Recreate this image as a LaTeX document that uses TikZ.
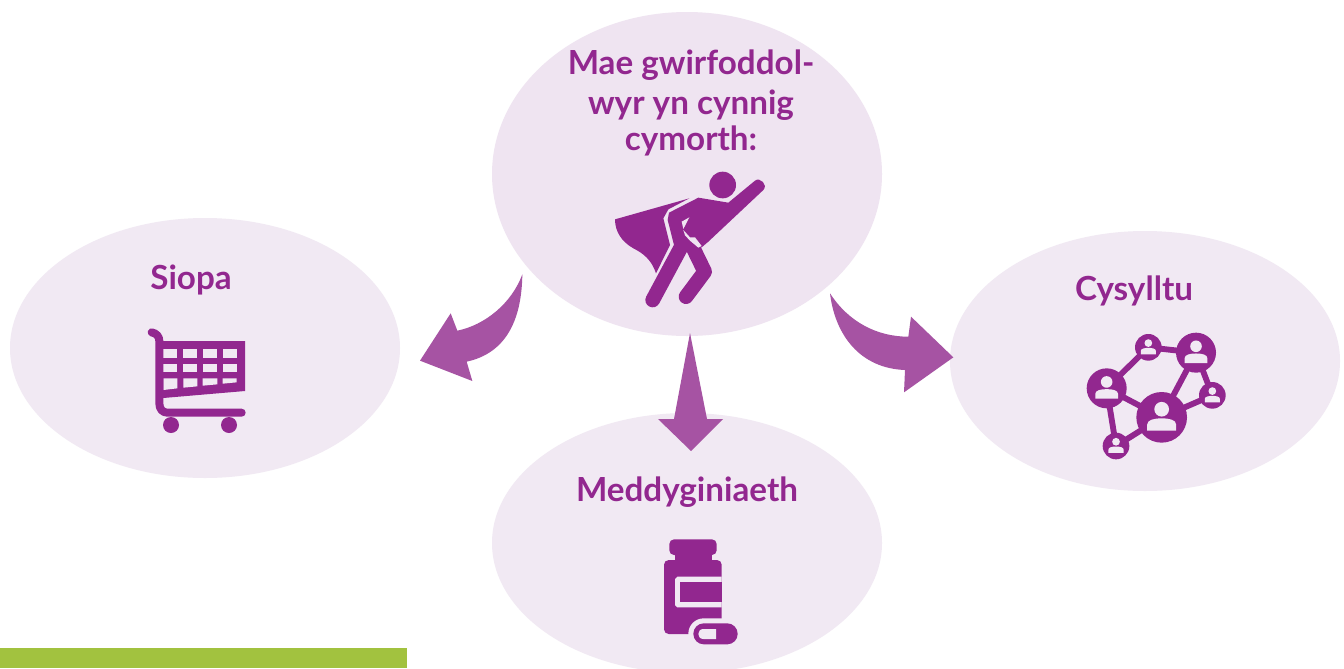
\documentclass[tikz,border=0pt]{standalone}
\usepackage{fontspec}
\setmainfont{Lato}[BoldFont={Lato Bold}]
\usetikzlibrary{shapes.geometric}
\definecolor{ink}{HTML}{92278F}
\definecolor{arrowc}{HTML}{A653A3}
\definecolor{topfill}{HTML}{EFE4F1}
\definecolor{sidefill}{HTML}{F1E9F3}
\definecolor{barc}{HTML}{A2C23F}
\tikzset{
  bubble/.style={ellipse,inner sep=0pt,minimum width=390*0.75pt},
  lab/.style={anchor=base,text=ink,font=\fontsize{24.9pt}{29pt}\selectfont\bfseries,inner sep=0pt},
  block/.style={fill=arrowc,draw=none},
  glyph/.style={fill=ink,draw=none},
  zoomed/.style={x=0.25pt,y=-0.25pt},
  netline/.style={draw=ink,line width=4.4pt}
}
\newcommand{\netperson}[3]{%
  \begin{scope}[shift={(#1,#2)},scale=#3]
    \fill[sidefill] (0,-.32) circle[radius=.29];
    \fill[sidefill] (-.57,.52) -- (-.57,.28) .. controls (-.57,.1) and (-.3,.04) .. (0,.04)
      .. controls (.3,.04) and (.57,.1) .. (.57,.28) -- (.57,.52) -- cycle;
  \end{scope}}
\begin{document}
\begin{tikzpicture}[x=0.75pt,y=-0.75pt]
\useasboundingbox (0,0) rectangle (1344,668);
\fill[white] (0,0) rectangle (1344,668);
\begin{scope}
\clip (0,0) rectangle (1344,668);
\node[bubble,fill=topfill,minimum height=324*0.75pt] (top) at (687,174) {};
\node[bubble,fill=sidefill,minimum height=260*0.75pt] (left) at (205,348) {};
\node[bubble,fill=sidefill,minimum height=260*0.75pt] (right) at (1145,361) {};
\node[bubble,fill=sidefill,minimum height=260*0.75pt] (bottom) at (687,543) {};
\end{scope}
\fill[barc] (0,648) rectangle (407,668);
% labels
\node[lab] (t1) at (691,74) {Mae gwirfoddol-};
\node[lab] (t2) at (691,114) {wyr yn cynnig};
\node[lab] (t3) at (691,150) {cymorth:};
\node[lab] (siopa) at (191,289) {Siopa};
\node[lab] (cys) at (1134,300) {Cysylltu};
\node[lab] (med) at (687,501) {Meddyginiaeth};
% block arrows
\begin{scope}[shift={(410,265)},zoomed]
\fill[block] (337,28) .. controls (335,170) and (285,265) .. (170,290) -- (187,348) -- (30,287) -- (122,145) -- (142,197) .. controls (225,180) and (305,115) .. (337,28) -- cycle;
\end{scope}
\begin{scope}[shift={(820,285)},zoomed]
\fill[block] (30,25) .. controls (45,150) and (120,250) .. (255,255) -- (252,322) -- (400,217) -- (273,95) -- (265,155) .. controls (170,155) and (85,110) .. (30,25) -- cycle;
\end{scope}
\fill[block] (690,333) -- (707,419) -- (723,419) -- (691,451) -- (658,419) -- (674,419) -- cycle;
% hero
\begin{scope}[shift={(600,160)},zoomed]
\fill[glyph] (368,75) circle[radius=40];
\fill[glyph] (45,178) -- (268,115) -- (205,148) -- (190,175) -- (210,255) -- (168,340) .. controls (155,300) and (130,280) .. (100,265) .. controls (65,245) and (45,215) .. (45,178) -- cycle;
\fill[glyph] (207,158) -- (295,113) -- (385,128) -- (465,62) .. controls (480,50) and (505,75) .. (490,90) -- (325,245) -- (305,262) -- (240,268) -- (222,255) -- (203,180) -- cycle;
\draw[ink,line width=11pt,line cap=round] (245,258) -- (158,420);
\draw[ink,line width=11pt,line cap=round,line join=round] (275,255) -- (314,335) -- (258,410);
\fill[topfill] (245,185) -- (268,172) -- (250,207) -- cycle;
\fill[topfill] (250,210) -- (270,232) -- (285,232) -- (305,258) -- (295,263) -- (270,242) -- (255,226) -- cycle;
\end{scope}
% cart
\begin{scope}[shift={(130,315)},zoomed]
\fill[glyph] (88,78) -- (345,78) -- (345,228) -- (88,250) -- cycle;
\foreach \a/\b in {100/142,160/202,218/262,278/320}{
  \fill[sidefill] (\a,103) rectangle (\b,130);
  \fill[sidefill] (\a,147) rectangle (\b,172);
}
\fill[sidefill] (100,190) -- (142,190) -- (142,220) -- (100,225) -- cycle;
\fill[sidefill] (160,190) -- (202,190) -- (202,214) -- (160,218) -- cycle;
\fill[sidefill] (218,190) -- (262,190) -- (262,208) -- (218,212) -- cycle;
\fill[sidefill] (278,190) -- (320,190) -- (320,202) -- (278,206) -- cycle;
\draw[ink,line width=6pt,line cap=round,line join=round] (65,52) .. controls (80,55) and (88,65) .. (88,78) -- (88,265) .. controls (88,282) and (98,293) .. (112,293) -- (335,293);
\fill[glyph] (123,330) circle[radius=24];
\fill[glyph] (297,330) circle[radius=24];
\end{scope}
% network
\begin{scope}[shift={(1070,320)},zoomed]
\coordinate (na) at (110,205);
\coordinate (nb) at (235,82);
\coordinate (nc) at (378,98);
\coordinate (nd) at (427,226);
\coordinate (ne) at (275,292);
\coordinate (nf) at (138,378);
\draw[netline] (na)--(nb) (nb)--(nc) (nc)--(ne) (nc)--(nd) (nd)--(ne) (na)--(ne) (na)--(nf) (nf)--(ne);
\fill[glyph] (na) circle[radius=60];
\fill[glyph] (nb) circle[radius=40];
\fill[glyph] (nc) circle[radius=60];
\fill[glyph] (nd) circle[radius=40];
\fill[glyph] (ne) circle[radius=76];
\fill[glyph] (nf) circle[radius=40];
\netperson{110}{205}{60}
\netperson{235}{82}{40}
\netperson{378}{98}{60}
\netperson{427}{226}{40}
\netperson{275}{292}{76}
\netperson{138}{378}{40}
\end{scope}
% bottle
\begin{scope}[shift={(640,530)},zoomed]
\fill[glyph,rounded corners=3.5pt] (88,28) rectangle (230,75);
\fill[glyph] (105,70) rectangle (215,95);
\fill[glyph,rounded corners=3.5pt] (72,90) -- (245,90) -- (245,312) -- (72,312) -- cycle;
\fill[sidefill] (245,140) -- (112,140) -- (105,147) -- (105,225) -- (112,232) -- (245,232) -- cycle;
\fill[glyph] (120,155) rectangle (245,217);
\fill[sidefill,rounded corners=11.5pt] (145,265) rectangle (310,360);
\fill[glyph,rounded corners=7.8pt] (160,280) rectangle (293,343);
\fill[sidefill] (228,297) -- (190,297) .. controls (170,297) and (170,327) .. (190,327) -- (228,327) -- cycle;
\end{scope}
\end{tikzpicture}
\end{document}
